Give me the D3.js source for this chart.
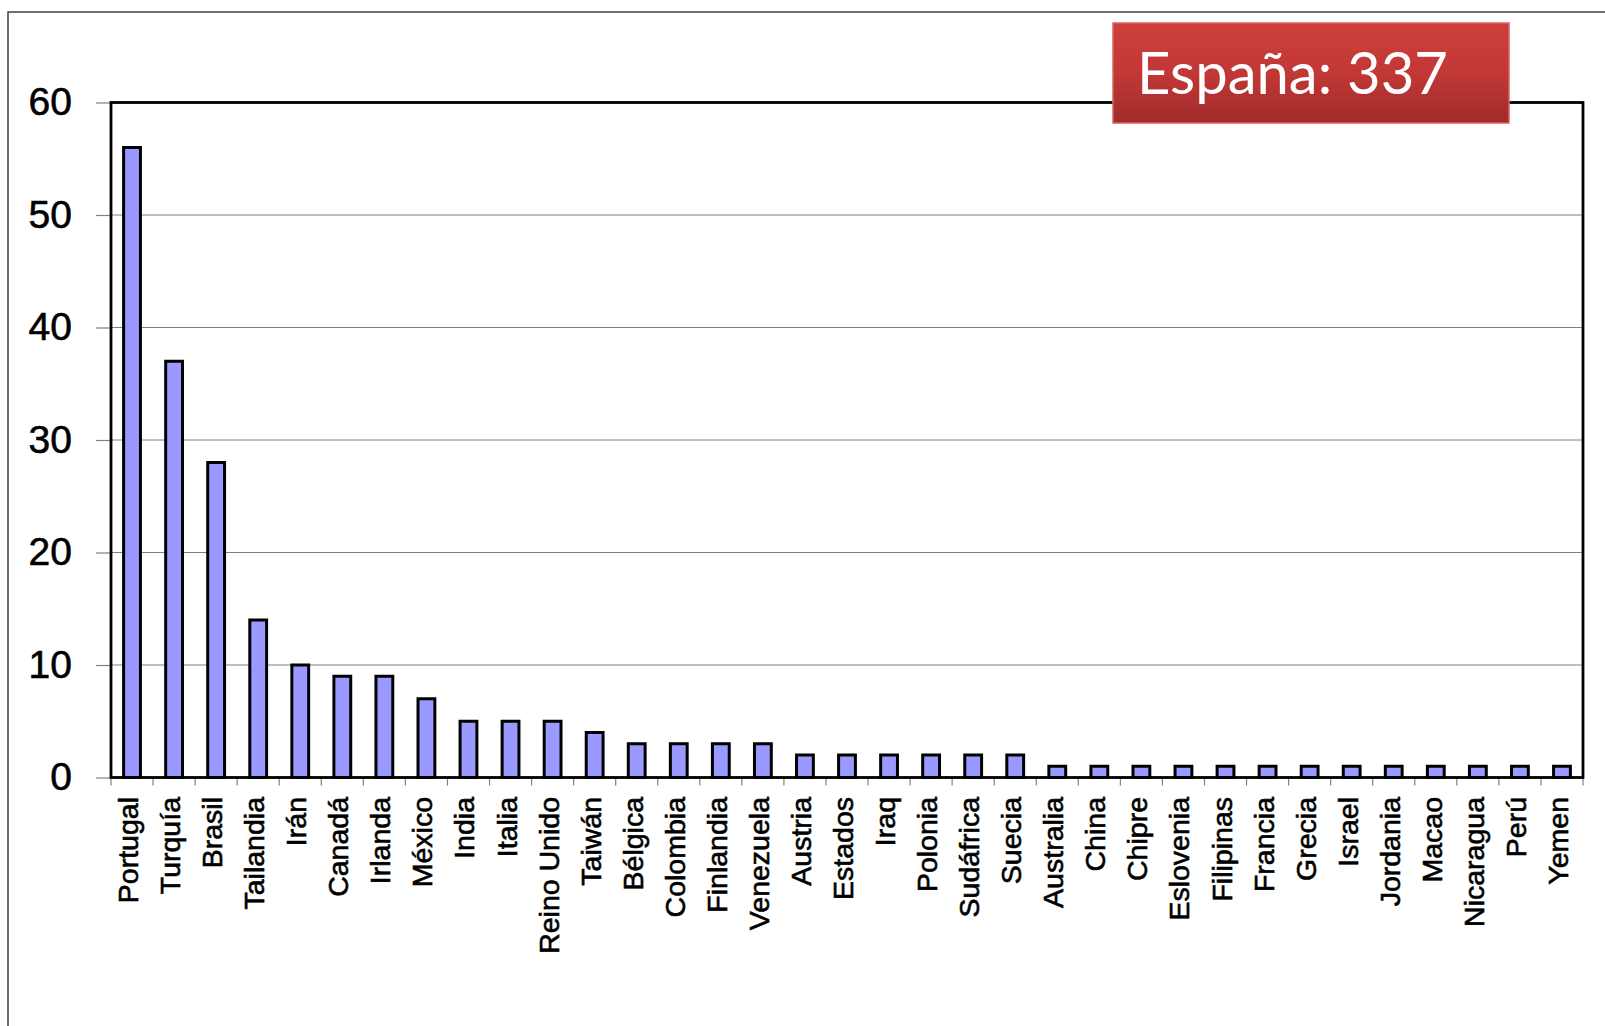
<!DOCTYPE html>
<html>
<head>
<meta charset="utf-8">
<script src="https://cdn.jsdelivr.net/npm/d3@7"></script>
<style>
  html, body { margin: 0; padding: 0; background: #fff; }
  svg { display: block; }
</style>
</head>
<body>
<svg id="chart" width="1605" height="1026"></svg>
<script>
const categories = ["Portugal","Turquía","Brasil","Tailandia","Irán","Canadá","Irlanda","México","India","Italia","Reino Unido","Taiwán","Bélgica","Colombia","Finlandia","Venezuela","Austria","Estados","Iraq","Polonia","Sudáfrica","Suecia","Australia","China","Chipre","Eslovenia","Filipinas","Francia","Grecia","Israel","Jordania","Macao","Nicaragua","Perú","Yemen"];
const values = [56,37,28,14,10,9,9,7,5,5,5,4,3,3,3,3,2,2,2,2,2,2,1,1,1,1,1,1,1,1,1,1,1,1,1];
const yTicks = [0,10,20,30,40,50,60];
const calloutText = "España: 337";

const svg = d3.select("#chart");
const W = 1605, H = 1026;
const m = {left: 111, top: 102.5, right: 1583, bottom: 777.5};

// outer frame
svg.append("rect").attr("x", 8).attr("y", 12).attr("width", W + 20).attr("height", H + 20)
  .attr("fill", "none").attr("stroke", "#404040").attr("stroke-width", 1.5);

const x = d3.scaleBand().domain(categories).range([m.left, m.right]).padding(0);
const y = d3.scaleLinear().domain([0, 60]).range([m.bottom, m.top]);

// gridlines
svg.append("g").selectAll("line").data(yTicks.filter(t => t > 0 && t < 60)).join("line")
  .attr("x1", m.left).attr("x2", m.right)
  .attr("y1", d => y(d)).attr("y2", d => y(d))
  .attr("stroke", "#808080").attr("stroke-width", 1);

// y axis ticks + labels
const yAxis = d3.axisLeft(y).tickValues(yTicks).tickSize(15).tickPadding(24).tickFormat(d3.format("d"));
const ya = svg.append("g").attr("transform", `translate(${m.left},0)`).call(yAxis);
ya.select(".domain").remove();
ya.selectAll(".tick line").attr("stroke", "#808080").attr("stroke-width", 1.2);
ya.selectAll(".tick text").attr("font-family", "Liberation Sans, Arial, sans-serif")
  .attr("font-size", 39).attr("fill", "#000").attr("stroke", "#000").attr("stroke-width", 0.6);

// x ticks at band boundaries
const bounds = categories.map(c => x(c)).concat([m.right]);
svg.append("g").selectAll("line").data(bounds).join("line")
  .attr("x1", d => d).attr("x2", d => d)
  .attr("y1", m.bottom).attr("y2", m.bottom + 8)
  .attr("stroke", "#808080").attr("stroke-width", 1.2);

// bars
const bw = x.bandwidth() * 0.4;
svg.append("g").selectAll("rect").data(values).join("rect")
  .attr("x", (d, i) => x(categories[i]) + x.bandwidth() / 2 - bw / 2)
  .attr("y", d => y(d))
  .attr("width", bw)
  .attr("height", d => y(0) - y(d))
  .attr("fill", "#9999FF").attr("stroke", "#000").attr("stroke-width", 3);

// plot frame
svg.append("rect").attr("x", m.left).attr("y", m.top)
  .attr("width", m.right - m.left).attr("height", m.bottom - m.top)
  .attr("fill", "none").attr("stroke", "#000").attr("stroke-width", 2.8);

// category labels
svg.append("g").selectAll("text").data(categories).join("text")
  .attr("transform", d => `translate(${x(d) + x.bandwidth() / 2 + 6},${m.bottom + 19.5}) rotate(-90)`)
  .attr("text-anchor", "end")
  .attr("font-family", "Liberation Sans, Arial, sans-serif")
  .attr("font-size", 28.5).attr("fill", "#000").attr("stroke", "#000").attr("stroke-width", 0.6)
  .text(d => d);

// callout box
const defs = svg.append("defs");
const grad = defs.append("linearGradient").attr("id", "redg").attr("x1", 0).attr("y1", 0).attr("x2", 0).attr("y2", 1);
grad.append("stop").attr("offset", "0%").attr("stop-color", "#CD3F3C");
grad.append("stop").attr("offset", "50%").attr("stop-color", "#C23836");
grad.append("stop").attr("offset", "100%").attr("stop-color", "#A02B2B");
svg.append("rect").attr("x", 1113).attr("y", 23).attr("width", 396).attr("height", 100)
  .attr("fill", "url(#redg)").attr("stroke", "#DA6360").attr("stroke-width", 1.5);
svg.append("text").attr("x", 1137).attr("y", 94)
  .attr("font-family", "Lato, 'Open Sans', sans-serif").attr("font-size", 58)
  .attr("fill", "#fff").text(calloutText);
</script>
</body>
</html>
